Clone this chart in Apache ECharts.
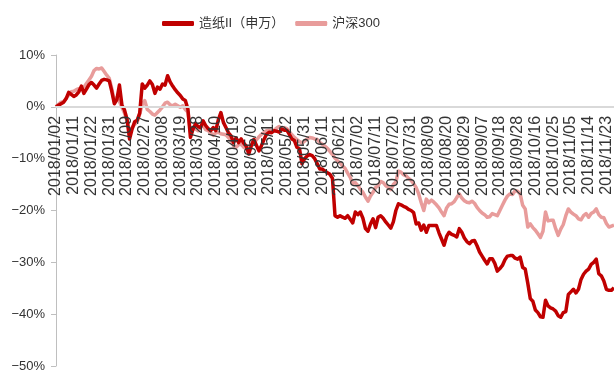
<!DOCTYPE html>
<html>
<head>
<meta charset="utf-8">
<script src="https://cdn.jsdelivr.net/npm/echarts@6/dist/echarts.min.js"></script>
<style>
  html, body { margin: 0; padding: 0; background: #fff; }
  #chart { width: 614px; height: 372px; }
</style>
</head>
<body>
<div id="chart"></div>
<script>
// Trading days of 2018 (month -> day numbers)
const tradingDays = [
  ['01', [2,3,4,5,8,9,10,11,12,15,16,17,18,19,22,23,24,25,26,29,30,31]],
  ['02', [1,2,5,6,7,8,9,12,13,14,22,23,26,27,28]],
  ['03', [1,2,5,6,7,8,9,12,13,14,15,16,19,20,21,22,23,26,27,28,29,30]],
  ['04', [2,3,4,9,10,11,12,13,16,17,18,19,20,23,24,25,26,27]],
  ['05', [2,3,4,7,8,9,10,11,14,15,16,17,18,21,22,23,24,25,28,29,30,31]],
  ['06', [1,4,5,6,7,8,11,12,13,14,15,19,20,21,22,25,26,27,28,29]],
  ['07', [2,3,4,5,6,9,10,11,12,13,16,17,18,19,20,23,24,25,26,27,30,31]],
  ['08', [1,2,3,6,7,8,9,10,13,14,15,16,17,20,21,22,23,24,27,28,29,30,31]],
  ['09', [3,4,5,6,7,10,11,12,13,14,17,18,19,20,21,25,26,27,28]],
  ['10', [8,9,10,11,12,15,16,17,18,19,22,23,24,25,26,29,30,31]],
  ['11', [1,2,5,6,7,8,9,12,13,14,15,16,19,20,21,22,23,26,27,28]]
];

const seriesNames = ['造纸II（申万）', '沪深300'];

// Cumulative return since 2018/01/02, %
const paperReturn = [
  0, 0.3, 0.6, 0.9, 1.6, 2.8, 2.4, 2.0, 2.3, 2.9,
  4.0, 2.6, 3.4, 4.3, 4.7, 4.2, 3.6, 4.4, 5.1, 5.3,
  5.2, 5.0, 3.0, 0.6, 1.4, 4.2, 0.3, -0.6, -2.4, -6.2,
  -4.3, -2.9, -2.6, -1.2, 4.4, 3.6, 4.2, 5.0, 4.3, 2.6,
  3.8, 3.4, 4.4, 4.2, 6.0, 4.8, 4.0, 3.3, 2.7, 2.2,
  1.5, 1.2, -0.4, -5.9, -4.3, -3.3, -3.8, -4.0, -2.7, -3.6,
  -4.2, -4.6, -4.0, -4.6, -2.5, -1.1, -3.0, -4.0, -5.0, -5.6,
  -6.9, -6.0, -6.9, -6.2, -7.0, -7.6, -9.1, -7.5, -6.3, -7.4,
  -8.5, -7.5, -6.3, -5.3, -4.9, -5.0, -4.6, -4.7, -4.9, -4.3,
  -4.5, -4.5, -5.3, -6.2, -6.5, -7.8, -8.1, -11.0, -10.0, -9.5,
  -9.2, -9.4, -10.0, -11.0, -12.0, -12.0, -12.4, -12.7, -13.0, -13.8,
  -21.0, -21.3, -21.0, -21.3, -21.5, -21.0, -21.7, -22.4, -20.3, -20.8,
  -20.3, -21.5, -23.5, -24.0, -22.6, -21.6, -23.3, -21.3, -21.0, -21.5,
  -22.2, -22.8, -23.4, -22.2, -20.0, -18.7, -18.9, -19.2, -19.4, -19.8,
  -20.0, -20.4, -22.6, -22.4, -23.8, -22.8, -24.2, -22.9, -22.9, -22.9,
  -22.9, -24.3, -25.5, -26.7, -25.0, -24.2, -24.6, -24.8, -25.1, -23.5,
  -24.2, -25.3, -26.0, -26.4, -25.9, -25.8, -26.8, -28.0, -28.8, -29.6,
  -30.3, -29.3, -29.3, -30.2, -31.7, -31.2, -30.6, -29.5, -28.8, -28.7,
  -28.7, -29.2, -29.4, -29.0, -31.0, -31.3, -34.0, -37.0, -37.5, -39.2,
  -39.7, -40.5, -40.6, -37.3, -38.4, -38.8, -39.0, -39.4, -40.3, -40.6,
  -39.7, -39.5, -36.2, -35.7, -35.2, -35.9, -35.2, -33.3, -32.3, -31.7,
  -31.3, -30.4, -30.0, -29.4, -32.2, -32.6, -33.6, -35.2, -35.4, -35.4,
  -34.9
];

const hs300Return = [
  0, 0.5, 0.9, 1.0, 1.6, 2.3, 2.9, 3.0, 3.3, 3.5,
  3.4, 3.8, 4.5, 5.2, 5.9, 7.0, 7.4, 7.3, 7.5, 6.8,
  6.1, 5.5, 3.5, 1.0, 1.8, 1.0, -0.1, -1.2, -2.6, -4.8,
  -4.0, -3.4, -2.9, -1.4, 0.5, 1.2, -0.5, -0.9, -1.4, -1.6,
  -1.1, -0.6, 0.0, 0.7, 0.9, 0.4, 0.2, 0.5, 0.2, -0.1,
  0.2, -0.5, -1.0, -4.8, -4.1, -4.3, -4.6, -3.8, -3.6, -4.4,
  -4.6, -5.0, -5.5, -5.0, -4.9, -5.2, -5.3, -5.4, -5.9, -6.5,
  -7.5, -7.8, -7.3, -7.2, -7.8, -8.1, -7.8, -7.4, -6.8, -6.4,
  -5.8, -5.3, -5.0, -4.6, -4.5, -4.6, -4.5, -4.1, -3.8, -4.3,
  -4.0, -4.2, -4.8, -5.4, -5.9, -6.3, -6.7, -7.0, -6.6, -6.2,
  -5.9, -6.0, -6.2, -6.3, -6.9, -7.2, -7.6, -8.0, -8.6, -9.2,
  -9.9, -10.4, -10.8, -11.4, -11.9, -12.8, -13.6, -14.8, -14.6, -15.2,
  -15.9, -16.5, -17.4, -18.2, -17.2, -16.5, -15.6, -15.2, -14.4, -14.6,
  -15.2, -15.6, -16.0, -15.0, -14.5, -12.4, -12.6, -13.1, -13.3, -13.8,
  -14.2, -14.8, -15.6, -16.8, -18.5, -20.0, -17.8, -18.5, -18.0, -18.4,
  -18.9, -19.5, -20.3, -21.0, -19.5, -18.8, -18.7, -18.3, -17.5, -16.8,
  -17.6, -18.1, -18.4, -18.5, -18.2, -18.6, -19.4, -20.0, -20.5, -20.8,
  -21.3, -21.2, -20.6, -20.8, -21.0, -20.0, -19.0, -18.0, -17.2, -16.8,
  -16.9, -16.2, -16.3, -16.8, -19.0, -19.7, -23.2, -22.6, -23.3, -23.8,
  -24.5, -25.2, -24.0, -20.3, -22.0, -21.9, -21.9, -23.5, -24.8, -23.6,
  -22.7, -21.0, -19.7, -20.3, -20.7, -21.0, -21.6, -21.8, -21.0, -20.6,
  -21.3, -20.6, -20.3, -19.7, -20.8, -21.3, -21.4, -22.5, -23.2, -23.0,
  -22.8
];

const yTicks = { min: -50, max: 10, step: 10 };

const dates = [];
tradingDays.forEach(([m, days]) => {
  days.forEach(d => dates.push('2018/' + m + '/' + String(d).padStart(2, '0')));
});

const latin = '"Liberation Sans", Arial, sans-serif';
const cjk = '"Liberation Sans", "Noto Sans CJK SC", sans-serif';

// Plot box
const gridTop = 55, gridBottom = 6, chartHeight = 372;
const plotHeight = chartHeight - gridTop - gridBottom;
// Lift the category axis (line + labels) from the bottom edge up to the 0% level
const zeroLift = -plotHeight * (0 - yTicks.min) / (yTicks.max - yTicks.min);

const chart = echarts.init(document.getElementById('chart'), null, { renderer: 'canvas' });
chart.setOption({
  animation: false,
  backgroundColor: '#ffffff',
  legend: {
    data: seriesNames,
    top: 12,
    left: 157,
    itemWidth: 32,
    itemHeight: 5,
    itemGap: 11,
    icon: 'roundRect',
    textStyle: { fontFamily: cjk, fontSize: 13, color: '#333333' }
  },
  grid: {
    left: 56, right: 0, top: gridTop, bottom: gridBottom,
    containLabel: false,
    outerBoundsMode: 'none'
  },
  xAxis: {
    type: 'category',
    data: dates,
    boundaryGap: false,
    position: 'bottom',
    offset: zeroLift,
    z: 10,
    axisLine: { show: true, onZero: false, lineStyle: { color: '#d9d9d9', width: 2 } },
    axisTick: { show: false },
    axisLabel: {
      interval: 6,
      rotate: 90,
      margin: 9,
      fontFamily: latin,
      fontSize: 16,
      color: '#333333'
    },
    splitLine: { show: false }
  },
  yAxis: {
    type: 'value',
    min: yTicks.min,
    max: yTicks.max,
    interval: yTicks.step,
    axisLine: { show: true, lineStyle: { color: '#bfbfbf', width: 1 } },
    axisTick: { show: true, length: 5, lineStyle: { color: '#bfbfbf' } },
    axisLabel: {
      margin: 11,
      fontFamily: latin,
      fontSize: 13,
      color: '#333333',
      formatter: v => (v < 0 ? '\u2212' : '') + Math.abs(v) + '%'
    },
    splitLine: { show: false }
  },
  series: [
    {
      name: seriesNames[1],
      type: 'line',
      data: hs300Return,
      symbol: 'none',
      z: 2,
      itemStyle: { color: '#e89c9b' },
      lineStyle: { color: '#e89c9b', width: 3.5, join: 'round' }
    },
    {
      name: seriesNames[0],
      type: 'line',
      data: paperReturn,
      symbol: 'none',
      z: 3,
      itemStyle: { color: '#c00000' },
      lineStyle: { color: '#c00000', width: 3.5, join: 'round' }
    }
  ]
});
</script>
</body>
</html>
